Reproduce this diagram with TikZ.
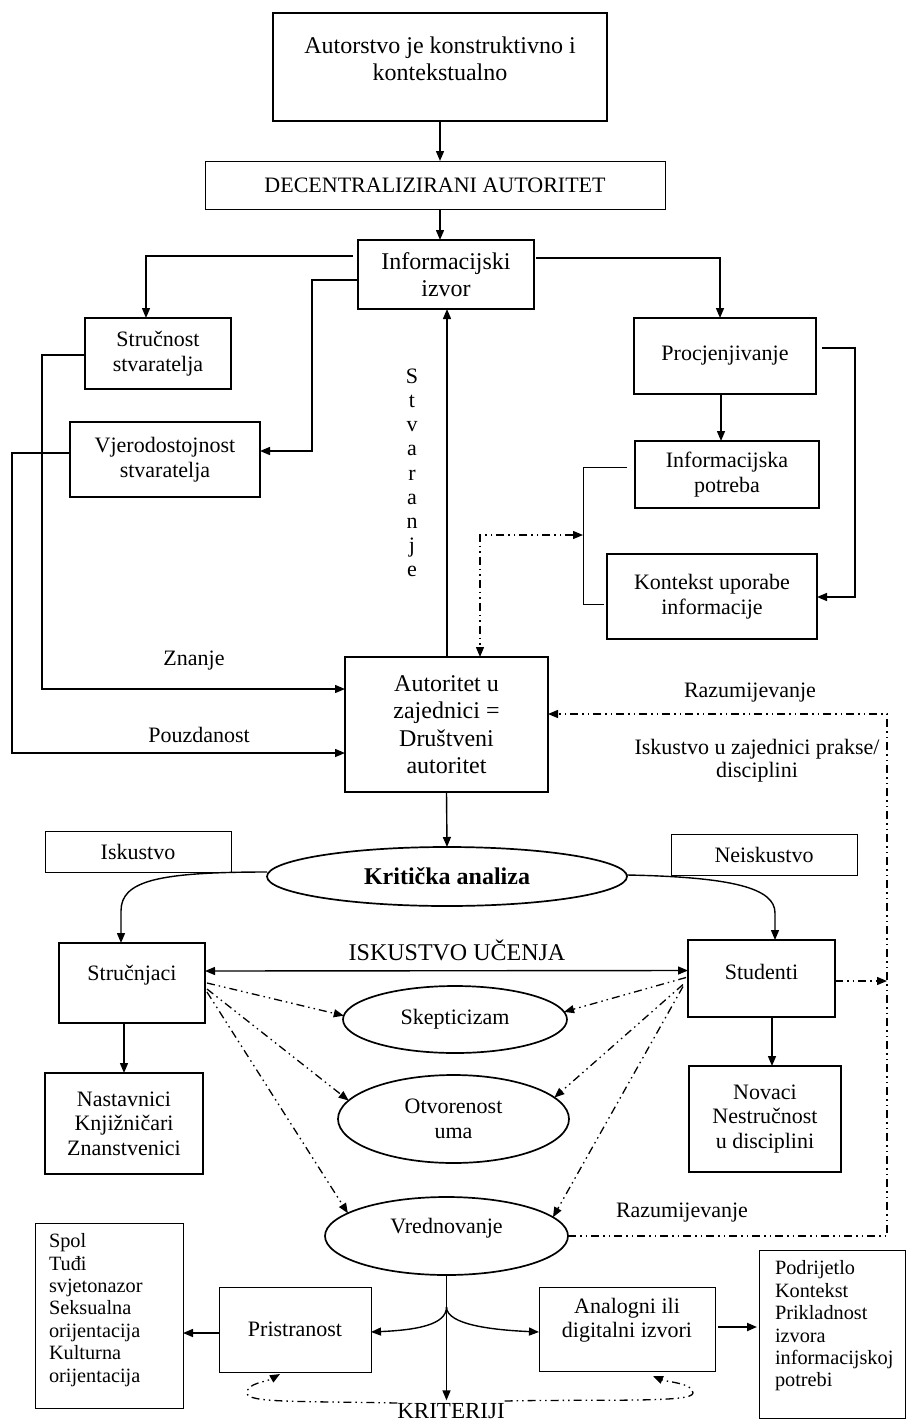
\documentclass[tikz,border=0pt]{standalone}
\usepackage{fontspec}
\setmainfont{Liberation Serif}
\usetikzlibrary{arrows.meta,calc,shapes.geometric}
\begin{document}
\begin{tikzpicture}[x=1pt,y=-1pt,
  every node/.style={inner sep=0pt, outer sep=0pt},
  fa/.style={font=\fontsize{22}{24.5}\selectfont},
  fb/.style={font=\fontsize{24}{27.5}\selectfont},
  fc/.style={font=\fontsize{20.3}{22.4}\selectfont},
  tbox/.style={draw, line width=1.8pt, rectangle, align=center},
  nbox/.style={draw, line width=1pt, rectangle, align=center},
  oval/.style={draw, line width=1.7pt, ellipse, align=center},
  tip/.style={-{Triangle[length=10pt,width=8pt]}},
  dtip/.style={{Triangle[length=10pt,width=8pt]}-{Triangle[length=10pt,width=8pt]}},
  ln/.style={line width=1.4pt},
  dd/.style={line width=1.3pt, dash pattern=on 8pt off 4pt on 1.5pt off 4pt on 1.5pt off 4pt},
]
\useasboundingbox (0,0) rectangle (906,1421);

% boxes
\node[tbox, minimum width=334pt, minimum height=108pt] (top) at (440,67) {};
\node[fb, align=center] (toptxt) at (440,59) {Autorstvo je konstruktivno i\\kontekstualno};
\node[nbox, fa, minimum width=460pt, minimum height=48pt] (dec) at (435,185) {DECENTRALIZIRANI AUTORITET};
\node[tbox, fb, minimum width=176pt, minimum height=69pt] (info) at (446,274.5) {Informacijski\\izvor};
\node[tbox, fa, minimum width=146pt, minimum height=71pt] (struc) at (158,353.5) {Stručnost\\stvaratelja};
\node[tbox, fa, minimum width=190pt, minimum height=75pt] (vjer) at (165,459.5) {Vjerodostojnost\\stvaratelja};
\node[tbox, fa, minimum width=182pt, minimum height=76pt] (procj) at (725,356) {Procjenjivanje};
\node[tbox, fa, minimum width=184pt, minimum height=67pt] (infpot) at (727,474.5) {Informacijska\\potreba};
\node[tbox, fa, minimum width=210pt, minimum height=85pt] (kont) at (712,596.5) {Kontekst uporabe\\informacije};
\node[tbox, fb, minimum width=203pt, minimum height=135pt] (aut) at (446.5,724.5) {Autoritet u\\zajednici =\\Društveni\\autoritet};
\node[nbox, fa, minimum width=186pt, minimum height=41pt] (isk) at (138,851.5) {Iskustvo};
\node[nbox, fa, minimum width=186pt, minimum height=41pt] (neisk) at (764,854.5) {Neiskustvo};
\node[oval, font=\bfseries\fontsize{24}{27}\selectfont, minimum width=360pt, minimum height=59pt] (krit) at (447,876.5) {Kritička analiza};
\node[tbox, minimum width=146pt, minimum height=80pt] (strj) at (132,983) {};
\node[fa] (strjtxt) at (132,975) {Stručnjaci};
\node[tbox, minimum width=147pt, minimum height=77pt] (stud) at (761.5,978.5) {};
\node[fa] (studtxt) at (761.5,972) {Studenti};
\node[tbox, fa, minimum width=158pt, minimum height=101pt] (nast) at (124,1123.5) {Nastavnici\\Knjižničari\\Znanstvenici};
\node[tbox, fa, minimum width=152pt, minimum height=106pt] (nov) at (765,1119) {Novaci\\Nestručnost\\u disciplini};
\node[oval, fa, minimum width=224pt, minimum height=67pt] (skep) at (455,1019.5) {Skepticizam};
\node[oval, fa, minimum width=231pt, minimum height=88pt] (otv) at (453.5,1119) {Otvorenost\\uma};
\node[oval, minimum width=243pt, minimum height=78pt] (vred) at (446.5,1236) {};
\node[fa] (vredtxt) at (446.5,1228) {Vrednovanje};
\node[nbox, minimum width=148pt, minimum height=185pt] (spol) at (109,1315.5) {};
\node[fc, align=left, anchor=west] (spoltxt) at (49,1310) {Spol\\Tuđi\\svjetonazor\\Seksualna\\orijentacija\\Kulturna\\orijentacija};
\node[nbox, fa, minimum width=152pt, minimum height=85pt] (prist) at (295,1329.5) {Pristranost};
\node[nbox, minimum width=176pt, minimum height=84pt] (analog) at (627,1329) {};
\node[fa, align=center] (analogtxt) at (627,1320) {Analogni ili\\digitalni izvori};
\node[nbox, minimum width=146pt, minimum height=168pt] (podr) at (832,1334) {};
\node[fc, align=left, anchor=west] (podrtxt) at (775,1326) {Podrijetlo\\Kontekst\\Prikladnost\\izvora\\informacijskoj\\potrebi};

% labels
\node[font=\fontsize{22}{24.2}\selectfont, align=center] (stv) at (412,473) {S\\t\\v\\a\\r\\a\\n\\j\\e};
\node[fa] (znanje) at (194,661) {Znanje};
\node[fa] (pouzd) at (199,735) {Pouzdanost};
\node[fa] (raz1) at (750,693) {Razumijevanje};
\node[font=\fontsize{22}{23}\selectfont, align=center] (iskzaj) at (757,760.5) {Iskustvo u zajednici prakse/\\disciplini};
\node[fb] (iskuc) at (457,950) {ISKUSTVO UČENJA};
\node[fa] (raz2) at (682,1213) {Razumijevanje};
\node[font=\fontsize{23}{26}\selectfont] (kl) at (451,1411) {KRITERIJI};

% top connectors
\draw[ln,tip] (top.south) -- (top.south |- dec.north);
\draw[ln,tip] (top.south |- dec.south) -- (top.south |- info.north);
\draw[ln,tip] ($(info.west)+(-5,-18.5)$) -| ($(struc.north)+(-12,0)$);
\draw[ln,tip] ($(info.west)+(0,5.5)$) -- ++(-46,0) |- ($(vjer.east)+(0,-8.5)$);
\draw[ln,tip] ($(info.east)+(2,-16.5)$) -| ($(procj.north)+(-5,0)$);
\draw[ln,tip] ($(aut.north)+(0.5,0)$) -- ($(info.south)+(1,0)$);
\draw[ln,tip] ($(struc.west)+(0,1.5)$) -- ++(-43,0) |- ($(aut.west)+(0,-35.5)$);
\draw[ln,tip] ($(vjer.west)+(0,-6.5)$) -- ++(-58,0) |- ($(aut.west)+(0,28.5)$);
\draw[ln,tip] ($(procj.east)+(6,-8)$) -- ++(33,0) |- ($(kont.east)+(0,0.5)$);
\draw[ln,tip] ($(procj.south)+(-4,0)$) -- ($(procj.south |- infpot.north)+(-4,0)$);
\draw[line width=0.8pt] ($(infpot.west)+(-8,-7.5)$) -- ++(-44,0) |- ($(kont.west)+(-3,7.5)$);
\coordinate (brk) at (583,535);
\draw[dd,dtip] (brk) -| ($(aut.north)+(33.5,0)$);

% right dash-dot loop
\coordinate (rc) at (887,714);
\draw[dd,tip] (vred.east) -| (rc) -- ($(aut.east)+(0,-10.5)$);
\draw[dd,tip] ($(stud.east)+(0,2.5)$) -- ($(rc |- stud.east)+(0,2.5)$);

% middle
\draw[ln,tip] (aut.south) -- (krit.north);
\draw[ln,tip] ($(krit.west)+(0,-4.5)$) .. controls +(-110,0) and +(0,-30) .. ($(strj.north)+(-11,-32)$) -- ($(strj.north)+(-11,0)$);
\draw[ln,tip] ($(krit.east)+(0,-1.5)$) .. controls +(105,2) and +(0,-25) .. ($(stud.north)+(13.5,-27)$) -- ($(stud.north)+(13.5,0)$);
\draw[ln,dtip] ($(strj.east)+(0,-12)$) -- ($(stud.west)+(0,-8)$);
\draw[ln,tip] (strj.south -| nast.north) -- (nast.north);
\draw[ln,tip] ($(stud.south)+(10.5,0)$) -- ($(stud.south |- nov.north)+(10.5,0)$);

\draw[dd,tip] ($(strj.east)+(2,0)$) -- (skep.178);
\draw[dd,tip] ($(strj.east)+(2,6)$) -- (otv.170);
\draw[dd,tip] ($(strj.east)+(2,9)$) -- (vred.167);
\draw[dd,tip] ($(stud.west)+(-2,-1)$) -- (skep.4);
\draw[dd,tip] ($(stud.west)+(-5,6)$) -- (otv.12);
\draw[dd,tip] ($(stud.west)+(-5,8)$) -- (vred.10);

% bottom
\draw[ln,tip] (vred.south) -- ($(vred.south |- kl.north)+(0,-3)$);
\coordinate (br) at ($(vred.south)+(0,32)$);
\draw[ln,tip] (br) .. controls +(0,18) and +(45,-2) .. ($(prist.east)+(0,2.5)$);
\draw[ln,tip] (br) .. controls +(0,18) and +(-45,-2) .. ($(analog.west)+(0,3)$);
\draw[ln,tip] ($(prist.west)+(0,3.5)$) -- ($(spol.east |- prist.west)+(0,3.5)$);
\draw[line width=2pt,tip] ($(analog.east)+(3,-2)$) -- ($(podr.west |- analog.east)+(-2,-2)$);

\draw[dd,tip] ($(kl.west)+(0,-8)$) .. controls +(-100,-2) and +(0,10) .. (247,1393) .. controls +(0,-10) and +(-14,8) .. ($(prist.south)+(-15,2)$);
\draw[dd,tip] ($(kl.east)+(0,-10)$) .. controls +(100,-2) and +(0,10) .. (693,1393) .. controls +(0,-10) and +(14,6) .. ($(analog.south)+(26,5)$);
\end{tikzpicture}
\end{document}
